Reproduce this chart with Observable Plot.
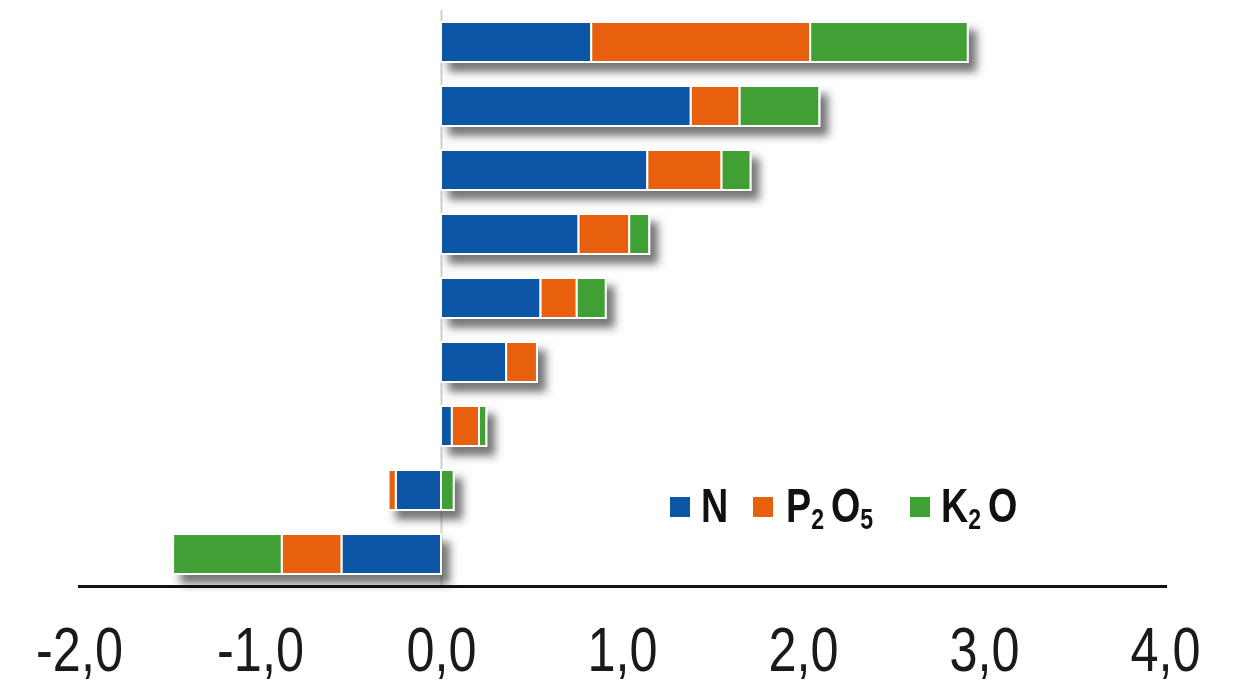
<!DOCTYPE html>
<html>
<head>
<meta charset="utf-8">
<script src="https://cdn.jsdelivr.net/npm/d3@7"></script>
<script src="https://cdn.jsdelivr.net/npm/@observablehq/plot@0.6"></script>
<style>
  html, body { margin: 0; padding: 0; background: #fff; }
  #wrap { position: relative; width: 1238px; height: 692px; font-family: "Liberation Sans", Arial, sans-serif; }
  .sw { position: absolute; width: 20px; height: 20px; top: 497px; }
  .lab { position: absolute; top: 481px; font-weight: bold; font-size: 49px; line-height: 1; white-space: nowrap;
         color: #111; transform: scaleX(0.77); transform-origin: left top; }
  .lab sub { font-size: 30px; vertical-align: -7px; line-height: 0; margin-right: 9px; }
</style>
</head>
<body>
<div id="wrap"></div>
<script>
// ---- data ----
const rows = ["r1", "r2", "r3", "r4", "r5", "r6", "r7", "r8", "r9"];
const series = ["N", "P2O5", "K2O"];
const nValues    = [0.83, 1.38, 1.14, 0.76, 0.55, 0.36, 0.06, -0.25, -0.55];
const p2o5Values = [1.21, 0.27, 0.41, 0.28, 0.20, 0.17, 0.15, -0.04, -0.33];
const k2oValues  = [0.87, 0.44, 0.16, 0.11, 0.16, 0.00, 0.04, 0.07, -0.60];
const seriesColors = ["#0b56a6", "#e8600c", "#3fa035"];
const xTicks = [-2, -1, 0, 1, 2, 3, 4];

const valuesBySeries = [nValues, p2o5Values, k2oValues];
const data = [];
rows.forEach((r, i) => {
  series.forEach((s, j) => {
    const v = valuesBySeries[j][i];
    if (v !== 0) data.push({row: r, series: s, value: v});
  });
});

const fmt = d => d.toFixed(1).replace(".", ",");

const chart = Plot.plot({
  width: 1238,
  height: 692,
  marginLeft: 79,
  marginRight: 73,
  marginTop: 10,
  marginBottom: 106,
  style: {fontFamily: '"Liberation Sans", Arial, sans-serif', fontSize: "63px", color: "#1a1a1a", background: "transparent"},
  x: {domain: [-2, 4]},
  y: {domain: rows, paddingInner: 0.38, paddingOuter: 0.19, axis: null},
  color: {domain: series, range: seriesColors},
  marks: [
    Plot.ruleX([0], {stroke: "#cfcfcf", strokeWidth: 2}),
    Plot.barX(data, Plot.stackX({x: "value", y: "row", fill: "series", stroke: "white", strokeWidth: 2})),
    Plot.frame({anchor: "bottom", stroke: "#111", strokeWidth: 3}),
    Plot.axisX(xTicks, {anchor: "bottom", tickSize: 0, tickPadding: 40, fontSize: 63, tickFormat: fmt, label: null})
  ]
});

document.getElementById("wrap").appendChild(chart);

// drop shadow under bars
const svg = d3.select(chart);
const defs = svg.insert("defs", ":first-child");
const f = defs.append("filter").attr("id", "barShadow").attr("x", "-5%").attr("y", "-30%").attr("width", "115%").attr("height", "180%");
f.append("feDropShadow").attr("dx", 8).attr("dy", 9).attr("stdDeviation", 4)
  .attr("flood-color", "#3a3a3a").attr("flood-opacity", 0.7);
svg.selectAll('g[aria-label="bar"]').attr("filter", "url(#barShadow)");

// narrow the tick label glyphs horizontally
svg.selectAll('g[aria-label="x-axis tick label"] text').each(function() {
  const t = d3.select(this);
  const tr = t.attr("transform");
  if (tr) {
    t.attr("transform", tr + " scale(0.8,1)");
  } else {
    const x = +t.attr("x") || 0, y = +t.attr("y") || 0;
    t.attr("x", null).attr("y", null).attr("transform", `translate(${x},${y}) scale(0.8,1)`);
  }
});

// legend (inside plot area)
const wrap = document.getElementById("wrap");
const legendItems = [
  {color: seriesColors[0], sw: 670, tx: 701, html: "N"},
  {color: seriesColors[1], sw: 753, tx: 786, html: "P<sub>2</sub>O<sub>5</sub>"},
  {color: seriesColors[2], sw: 910, tx: 941, html: "K<sub>2</sub>O"}
];
legendItems.forEach(it => {
  const s = document.createElement("div");
  s.className = "sw"; s.style.left = it.sw + "px"; s.style.background = it.color;
  wrap.appendChild(s);
  const l = document.createElement("div");
  l.className = "lab"; l.style.left = it.tx + "px"; l.innerHTML = it.html;
  wrap.appendChild(l);
});
</script>
</body>
</html>
